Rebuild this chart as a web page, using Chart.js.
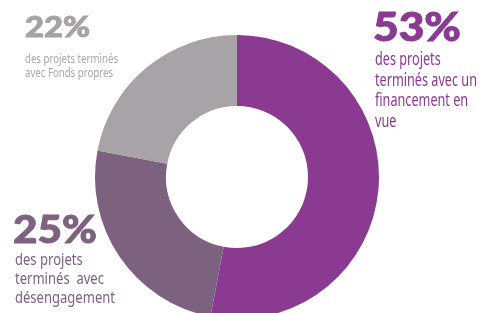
<!DOCTYPE html>
<html><head><meta charset="utf-8">
<script src="https://cdn.jsdelivr.net/npm/chart.js@4/dist/chart.umd.min.js"></script>
<style>
html,body{margin:0;padding:0;width:481px;height:313px;overflow:hidden;background:#fff;}
#wrap{position:absolute;left:0;top:0;width:481px;height:354px;}
.lbl{position:absolute;white-space:nowrap;transform-origin:0 0;}
.num{font-family:Lato,"DejaVu Sans",sans-serif;font-weight:900;line-height:normal;-webkit-text-stroke:0.9px currentColor;}
.cap{font-family:"Noto Sans","Open Sans",sans-serif;}
</style></head>
<body>
<div id="wrap"><canvas id="c" width="481" height="354"></canvas></div>
<div class="lbl num" data-w="65" style="left:25px;top:9.4px;font-size:28px;color:#a6a2a6;">22%</div>
<div class="lbl cap" data-w="93" style="left:25px;top:50.5px;font-size:13px;line-height:14px;color:#aaa6aa;">des projets terminés<br>avec Fonds propres</div>
<div class="lbl num" data-w="88" style="left:373px;top:3px;font-size:39px;color:#8b3a92;">53%</div>
<div class="lbl cap" data-w="102" style="left:375px;top:48px;font-size:17.5px;line-height:20.5px;color:#8b3a92;">des projets<br>terminés avec un<br>financement en<br>vue</div>
<div class="lbl num" data-w="84" style="left:13px;top:204.5px;font-size:38px;color:#7d6280;">25%</div>
<div class="lbl cap" data-w="100" style="left:15px;top:249px;font-size:16.5px;line-height:19px;color:#7d6280;">des projets<br>terminés &nbsp;avec<br>désengagement</div>
<script>
const categories = ["Financement en vue", "Désengagement", "Fonds propres"];
const values = [53, 25, 22];
const colors = ["#8b3a92", "#7d6280", "#a7a3a7"];
document.querySelectorAll('.lbl').forEach(el => {
  const w = el.getBoundingClientRect().width;
  el.style.transform = 'scaleX(' + (parseFloat(el.dataset.w) / w) + ')';
});
new Chart(document.getElementById('c'), {
  type: 'doughnut',
  data: { labels: categories, datasets: [{ data: values, backgroundColor: colors, borderWidth: 0 }] },
  options: {
    responsive: false, animation: false, cutout: '50%', rotation: 0,
    layout: { padding: { left: 95, right: 102, top: 35, bottom: 35 } },
    plugins: { legend: { display: false }, tooltip: { enabled: false } }
  }
});
</script>
</body></html>
